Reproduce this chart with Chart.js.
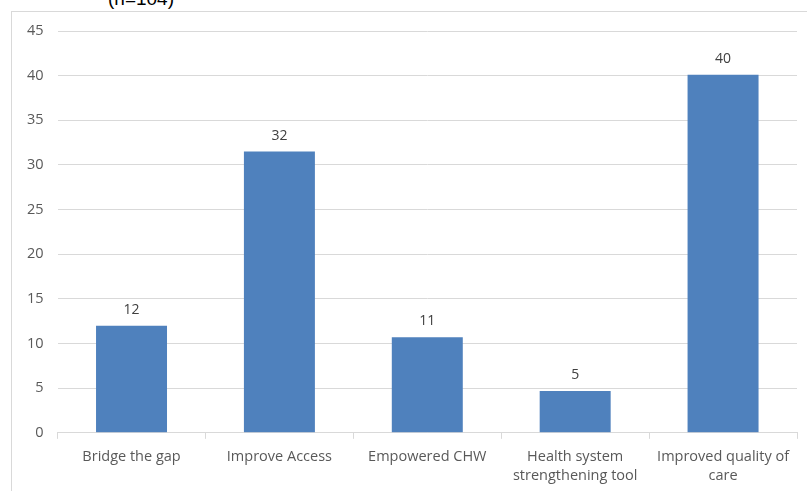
<!DOCTYPE html>
<html>
<head>
<meta charset="utf-8">
<script src="https://cdn.jsdelivr.net/npm/chart.js@4/dist/chart.umd.min.js"></script>
<style>
  html, body { margin: 0; padding: 0; background: #fff; overflow: hidden; }
  #wrap { position: relative; width: 807px; height: 491px; overflow: hidden; }
  #frame { position: absolute; left: 11px; top: 11px; width: 820px; height: 500px; border: 1px solid #d9d9d9; box-sizing: border-box; }
  #note { position: absolute; left: 108px; top: -12px; font: 19px "Liberation Sans", Arial, sans-serif; color: #000; }
  canvas { position: absolute; left: 0; top: 0; }
</style>
</head>
<body>
<div id="wrap">
  <div id="note">(n=104)</div>
  <div id="frame"></div>
  <canvas id="c" width="807" height="501"></canvas>
</div>
<script>
const categories = ["Bridge the gap", "Improve Access", "Empowered CHW", ["Health system", "strengthening tool"], ["Improved quality of", "care"]];
const values = [12, 31.5, 10.7, 4.7, 40.1];
const valueLabels = ["12", "32", "11", "5", "40"];
const yTicks = [0, 5, 10, 15, 20, 25, 30, 35, 40, 45];

const labelPlugin = {
  id: 'barLabels',
  afterDatasetsDraw(chart) {
    const ctx = chart.ctx;
    const meta = chart.getDatasetMeta(0);
    ctx.save();
    ctx.font = '14px "Open Sans", sans-serif';
    ctx.fillStyle = '#404040';
    ctx.textAlign = 'center';
    ctx.textBaseline = 'bottom';
    meta.data.forEach((bar, i) => {
      ctx.fillText(valueLabels[i], bar.x, bar.y - 9);
    });
    ctx.restore();
  }
};

new Chart(document.getElementById('c'), {
  type: 'bar',
  data: {
    labels: categories,
    datasets: [{
      data: values,
      backgroundColor: '#4f81bd',
      borderWidth: 0,
      categoryPercentage: 1,
      barPercentage: 0.48
    }]
  },
  options: {
    responsive: false,
    animation: false,
    devicePixelRatio: 1,
    layout: { padding: { left: 13, top: 31, right: 10, bottom: 7 } },
    plugins: { legend: { display: false }, tooltip: { enabled: false } },
    scales: {
      x: {
        grid: { drawOnChartArea: false, color: '#d9d9d9', tickLength: 6, offset: true },
        border: { color: '#d9d9d9' },
        ticks: { color: '#595959', font: { family: '"Open Sans", sans-serif', size: 14.5, lineHeight: 1.35 }, padding: 8, maxRotation: 0, autoSkip: false }
      },
      y: {
        min: 0, max: 45,
        afterBuildTicks(axis) { axis.ticks = yTicks.map(v => ({ value: v })); },
        grid: { color: '#d9d9d9', drawTicks: false },
        border: { display: false },
        ticks: { color: '#595959', font: { family: '"Open Sans", sans-serif', size: 14.5 }, padding: 14 }
      }
    }
  },
  plugins: [labelPlugin]
});
</script>
</body>
</html>
